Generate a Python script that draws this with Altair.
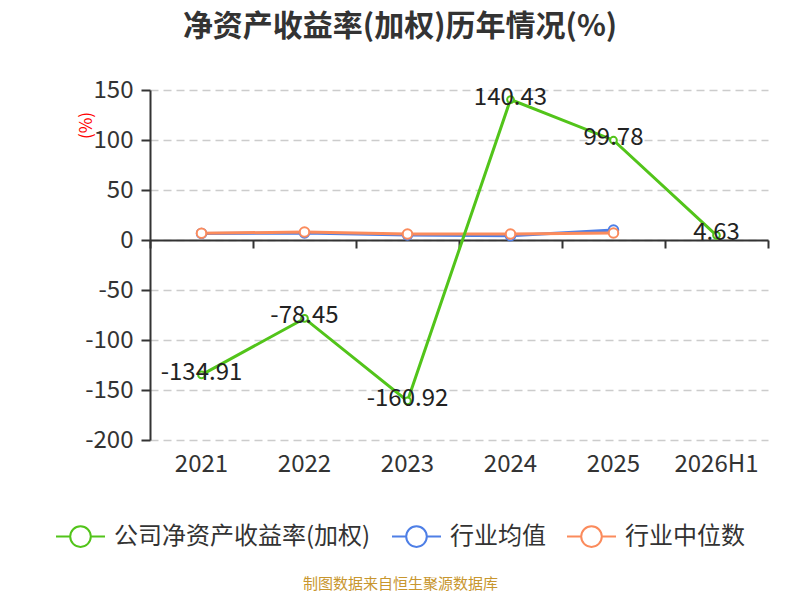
import altair as alt
import pandas as pd

years = ["2021", "2022", "2023", "2024", "2025", "2026H1"]
company = [-134.91, -78.45, -160.92, 140.43, 99.78, 4.63]
ind_mean = [6.6, 7.0, 5.0, 4.3, 10.0]
ind_median = [6.7, 8.0, 6.0, 6.0, 7.0]
series_names = ["公司净资产收益率(加权)", "行业均值", "行业中位数"]
colors = ["#52c41a", "#4e7fe6", "#fb8b5c"]
y_ticks = [150, 100, 50, 0, -50, -100, -150, -200]

rows = []
for yr, v in zip(years, company):
    rows.append({"year": yr, "series": series_names[0], "value": v})
for yr, v in zip(years, ind_mean):
    rows.append({"year": yr, "series": series_names[1], "value": v})
for yr, v in zip(years, ind_median):
    rows.append({"year": yr, "series": series_names[2], "value": v})
df = pd.DataFrame(rows)

FONT = "Noto Sans CJK SC"
MINUS = "\u2212"
symbol_path = "M-1,0H-0.42M0.42,0H1M0.42,0A0.42,0.42,0,1,1,-0.42,0A0.42,0.42,0,1,1,0.42,0"

xscale = alt.Scale(type="band", domain=years, paddingInner=0, paddingOuter=0)
yscale = alt.Scale(domain=[-200, 150], nice=False)

axis_labels = alt.Axis(
    orient="bottom", domain=False, ticks=False, grid=False, labelAngle=0,
    labelFontSize=24, labelColor="#333", labelFont=FONT, labelPadding=12,
    title="制图数据来自恒生聚源数据库", titleColor="#c8962e", titleFontSize=15,
    titleFont=FONT, titleFontWeight="normal", titleX=250, titleY=143,
    titleBaseline="middle",
)
axis_zero = alt.Axis(
    orient="bottom", offset=-200, labels=False, domain=True, domainColor="#333",
    domainWidth=2, ticks=True, tickColor="#333", tickWidth=2, tickSize=8,
    tickBand="extent", grid=False, title=None,
)
yaxis = alt.Axis(
    values=y_ticks, domain=True, domainColor="#333", domainWidth=2,
    ticks=True, tickColor="#333", tickWidth=2, tickSize=9,
    labelFontSize=24, labelColor="#333", labelFont=FONT, labelPadding=8,
    labelExpr=f"replace(datum.label, '{MINUS}', '-')",
    grid=True, gridDash=[8, 5], gridColor="#cccccc", gridWidth=1.5,
    title="(%)", titleColor="#ff0000", titleFontSize=17, titleFont=FONT,
    titleFontWeight="normal", titleX=-55, titleY=35, titleAngle=270,
)

color = alt.Color(
    "series:N",
    scale=alt.Scale(domain=series_names, range=colors),
    legend=alt.Legend(
        orient="none", legendX=-95, legendY=421, direction="horizontal",
        title=None, symbolType=symbol_path, symbolSize=2400, symbolStrokeWidth=2,
        labelFontSize=24, labelFont=FONT, labelColor="#333", labelOffset=8,
        labelLimit=500, columnPadding=17, symbolFillColor="white",
    ),
)

base = alt.Chart(df)


def enc(axis):
    return dict(
        x=alt.X("year:N", sort=years, scale=xscale, axis=axis, bandPosition=0.5),
        y=alt.Y("value:Q", scale=yscale, axis=yaxis),
        color=color,
    )


def line(name, axis):
    return base.transform_filter(alt.datum.series == name).mark_line(
        strokeWidth=3
    ).encode(**enc(axis))


def points(name, size):
    return base.transform_filter(alt.datum.series == name).mark_point(
        filled=False, fill="white", size=size, strokeWidth=2, opacity=1
    ).encode(**enc(None))


layers = [
    line(series_names[1], axis_labels),
    line(series_names[2], axis_zero),
    points(series_names[1], 90),
    points(series_names[2], 90),
    line(series_names[0], None),
    points(series_names[0], 45),
]

labels = base.transform_filter(alt.datum.series == series_names[0]).transform_calculate(
    lbl=f"replace(format(datum.value, '.2f'), '{MINUS}', '-')"
).mark_text(
    fontSize=24, font=FONT, color="#222", dy=-2
).encode(
    x=alt.X("year:N", sort=years, scale=xscale, axis=None, bandPosition=0.5),
    y=alt.Y("value:Q", scale=yscale, axis=yaxis),
    text=alt.Text("lbl:N"),
)

chart = alt.layer(*layers, labels).resolve_axis(x="independent").properties(
    width=618,
    height=350,
    autosize=alt.AutoSizeParams(type="none"),
    padding={"left": 142, "top": 82, "right": 24, "bottom": 152},
    title=alt.TitleParams(
        text="净资产收益率(加权)历年情况(%)", fontSize=30, fontWeight="bold",
        color="#333", font=FONT, anchor="middle", dx=-59, dy=-32,
    ),
).configure_view(stroke=None)

chart.save("out.html", embed_options={"renderer": "svg", "actions": False})
